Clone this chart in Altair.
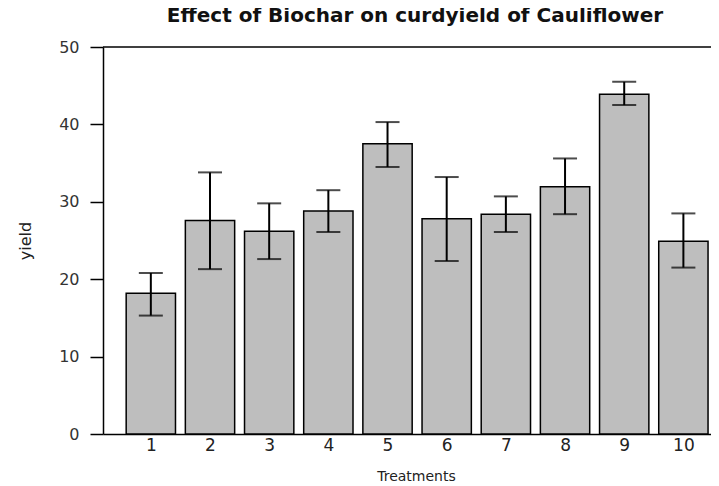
import altair as alt
import pandas as pd

treatments = [1, 2, 3, 4, 5, 6, 7, 8, 9, 10]
yield_mean = [18.2, 27.6, 26.2, 28.8, 37.5, 27.8, 28.4, 31.95, 43.9, 24.9]
yield_upper = [20.8, 33.8, 29.8, 31.5, 40.3, 33.2, 30.7, 35.6, 45.5, 28.5]
yield_lower = [15.3, 21.3, 22.6, 26.1, 34.5, 22.35, 26.1, 28.4, 42.5, 21.5]
y_ticks = [0, 10, 20, 30, 40, 50]

# R barplot-like layout: bar width 1, space 0.2
SPACE = 0.2
BW = 1.0
lefts = [SPACE + (BW + SPACE) * (t - 1) for t in treatments]
df = pd.DataFrame({
    "t": treatments,
    "left": lefts,
    "right": [l + BW for l in lefts],
    "mid": [l + BW / 2 for l in lefts],
    "mean": yield_mean,
    "upper": yield_upper,
    "lower": yield_lower,
})

W, H = 608, 387
xscale = alt.Scale(domain=[-0.27, 12.06], nice=False, zero=False)
yscale = alt.Scale(domain=[0, 50], nice=False)
FONT = "DejaVu Sans"

base = alt.Chart(df)

bars = base.mark_bar(color="#bebebe", stroke="black", strokeWidth=1.5).encode(
    x=alt.X("left:Q", scale=xscale,
            axis=alt.Axis(values=[l + BW / 2 for l in lefts],
                          labelExpr="round((datum.value + 0.5) / 1.2)",
                          ticks=False, grid=False, domainColor="black",
                          domainWidth=1.5, labelFontSize=17, labelFont=FONT,
                          labelColor="#222", labelPadding=3,
                          title="Treatments", titleFont=FONT, titleFontSize=14,
                          titleFontWeight="normal", titleColor="#222",
                          titleX=313, titleY=46, titleBaseline="alphabetic")),
    x2="right:Q",
    y=alt.Y("mean:Q", scale=yscale,
            axis=alt.Axis(values=y_ticks, grid=False, tickSize=13, tickWidth=1.5,
                          tickColor="black", domainColor="black", domainWidth=1.5,
                          labelFontSize=16, labelFont=FONT, labelColor="#333",
                          labelPadding=11,
                          title="yield", titleFont=FONT, titleFontSize=16,
                          titleFontWeight="normal", titleColor="#222",
                          titleAngle=-90, titleX=-78, titleY=H / 2,
                          titleBaseline="middle", titleAlign="center")),
    y2=alt.datum(0),
)

err = base.mark_rule(color="black", strokeWidth=2).encode(
    x="mid:Q", y="lower:Q", y2="upper:Q"
)
cap_hi = base.mark_tick(color="black", orient="horizontal", size=24, thickness=2).encode(
    x="mid:Q", y="upper:Q"
)
cap_lo = base.mark_tick(color="black", orient="horizontal", size=24, thickness=2).encode(
    x="mid:Q", y="lower:Q"
)
top_line = alt.Chart(pd.DataFrame({"v": [50]})).mark_rule(color="black", strokeWidth=1.5).encode(
    y=alt.Y("v:Q", scale=yscale), x=alt.value(0), x2=alt.value(W)
)

chart = alt.layer(bars, err, cap_hi, cap_lo, top_line).properties(
    width=W, height=H,
    autosize="none",
    padding={"left": 95, "top": 39, "right": 0, "bottom": 50},
    title=alt.TitleParams("Effect of Biochar on curdyield of Cauliflower",
                          font=FONT, fontSize=20, fontWeight="bold",
                          color="#111", offset=13, dx=8, anchor="middle"),
).configure_view(stroke=None)

chart.save("out.html", embed_options={"renderer": "svg", "actions": False})
